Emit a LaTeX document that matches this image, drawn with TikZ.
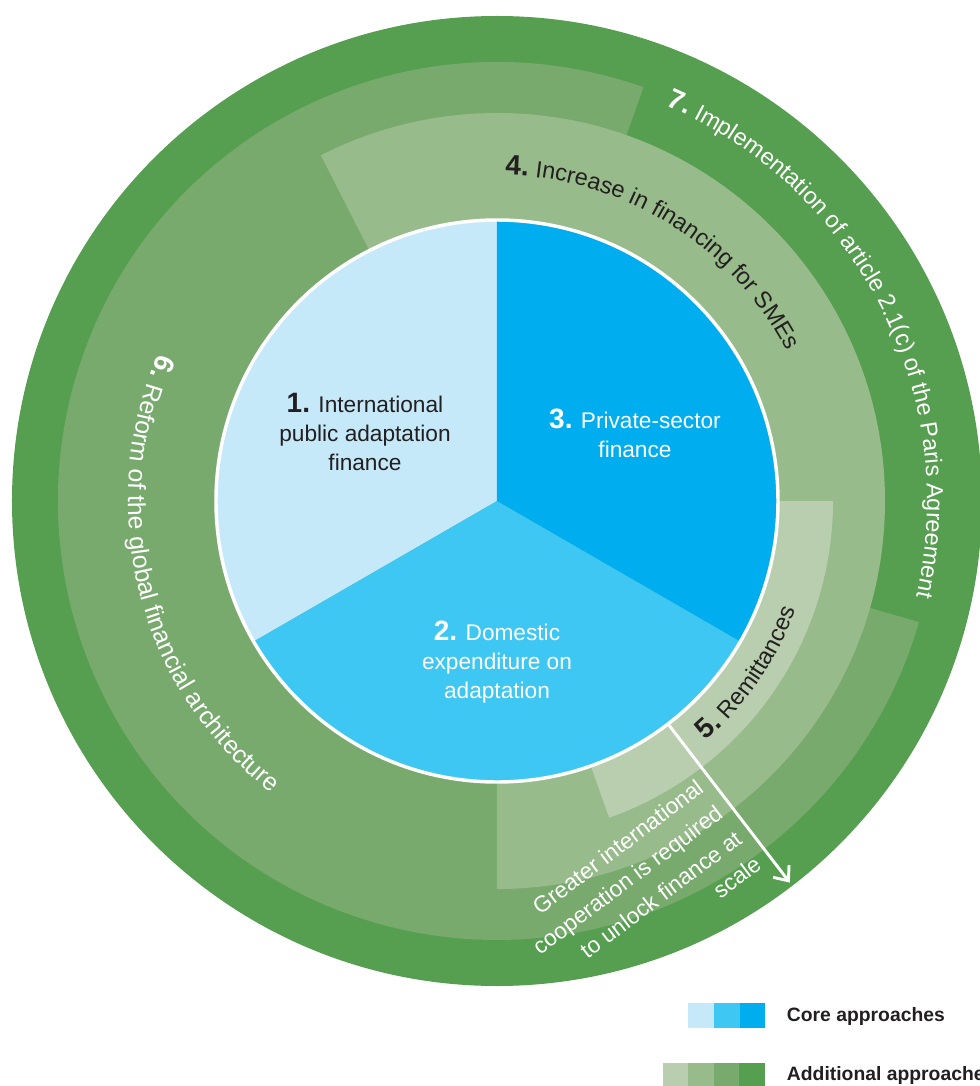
\documentclass[tikz,border=0pt]{standalone}
\usepackage{fontspec}
\setmainfont{Liberation Sans}
\usetikzlibrary{arrows.meta,decorations.text}

\definecolor{coreLight}{RGB}{198,233,249}
\definecolor{coreMid}{RGB}{63,199,243}
\definecolor{coreDark}{RGB}{0,173,238}
\definecolor{addLight}{RGB}{184,206,174}
\definecolor{addPale}{RGB}{152,187,139}
\definecolor{addMid}{RGB}{120,170,110}
\definecolor{addDark}{RGB}{86,158,80}
\definecolor{inkDark}{RGB}{35,31,32}

\newcommand{\numsize}{\fontsize{21}{21}\selectfont\bfseries}
\newcommand{\txtsize}{\fontsize{17}{21.75}\selectfont}
\newcommand{\arcsize}{\fontsize{17.6}{17.6}\selectfont}
\newcommand{\arcwide}{\fontsize{18.6}{18.6}\selectfont}

\tikzset{every picture/.style={line width=0.75pt}}
\tikzset{
  pie label/.style={align=center, font=\txtsize},
  ring label/.style={decorate, decoration={text along path, text align=center, text={#1}}},
  key label/.style={anchor=west, text=inkDark, font=\fontsize{14.5}{14.5}\selectfont\bfseries},
}

\begin{document}
\begin{tikzpicture}[x=0.75pt,y=0.75pt,yscale=1,xscale=1]
	\useasboundingbox (-497,-585) rectangle (482,501);

	%Shape: Circle [id:outer ring 7]
	\fill [addDark] (0,0) circle [radius=485];
	%Shape: Sector [id:band 6]
	\fill [addMid] (0,0) -- (70.5:439) arc [start angle=70.5, end angle=344, radius=439] -- cycle;
	%Shape: Sector [id:band 4]
	\fill [addPale] (0,0) -- (-90:388) arc [start angle=-90, end angle=117, radius=388] -- cycle;
	%Shape: Sector [id:band 5]
	\fill [addLight] (0,0) -- (-70.5:336) arc [start angle=-70.5, end angle=0, radius=336] -- cycle;
	%Shape: Sector [id:core 1]
	\fill [coreLight] (0,0) -- (90:281) arc [start angle=90, end angle=210, radius=281] -- cycle;
	%Shape: Sector [id:core 2]
	\fill [coreMid] (0,0) -- (210:281) arc [start angle=210, end angle=330, radius=281] -- cycle;
	%Shape: Sector [id:core 3]
	\fill [coreDark] (0,0) -- (-30:281) arc [start angle=-30, end angle=90, radius=281] -- cycle;
	%Shape: Circle [id:pie rim]
	\draw [white, line width=2.6pt] (0,0) circle [radius=281];

	%Straight Lines [id:scale arrow]
	\coordinate (arrowFrom) at (-52.5:283);
	\coordinate (arrowTo) at (-52.5:481);
	\draw [white, line width=2.2pt, -{Straight Barb[length=9pt,width=15pt]}] (arrowFrom) -- (arrowTo);

	% Curved Text
	\path [ring label={|\numsize\color{inkDark}|4.|\arcsize\color{inkDark}| Increase in financing for SMEs}]
		(103:326) arc [start angle=103, end angle=13, radius=326];
	% Curved Text
	\path [ring label={|\numsize\color{white}|7.|\arcsize\color{white}| Implementation of article 2.1(c) of the Paris Agreement}]
		(87:430) arc [start angle=87, end angle=-33, radius=430];
	% Curved Text
	\path [ring label={|\numsize\color{white}|6.|\arcwide\color{white}| Reform of the global financial architecture}]
		(134.4:369) arc [start angle=134.4, end angle=254.4, radius=369];
	% Curved Text
	\path [ring label={|\numsize\color{inkDark}|5.|\arcsize\color{inkDark}| Remittances}]
		(-74.5:318) arc [start angle=-74.5, end angle=5.5, radius=318];

	% Text Node
	\draw (-132,69) node (coreIntl) [pie label, text=inkDark] {{\numsize 1.} International\\public adaptation\\finance};
	% Text Node
	\draw (0,-161) node (coreDomestic) [pie label, text=white] {{\numsize 2.} Domestic\\expenditure on\\adaptation};
	% Text Node
	\draw (138,68) node (corePrivate) [pie label, text=white] {{\numsize 3.} Private-sector\\finance};
	% Text Node
	\draw (236,-319) node (scaleNote) [anchor=east, rotate=37, align=right, text=white, font=\fontsize{17}{24}\selectfont] {Greater international\\cooperation is required\\to unlock finance at\\scale};

	%Shape: Rectangle [id:key core]
	\fill [coreLight] (191,-502) rectangle (217,-527);
	\fill [coreMid] (217,-502) rectangle (243,-527);
	\fill [coreDark] (243,-502) rectangle (268,-527);
	% Text Node
	\draw (285,-515) node (keyCore) [key label] {Core approaches};
	%Shape: Rectangle [id:key additional]
	\fill [addLight] (166,-562) rectangle (191.5,-590);
	\fill [addPale] (191.5,-562) rectangle (217,-590);
	\fill [addMid] (217,-562) rectangle (242.5,-590);
	\fill [addDark] (242.5,-562) rectangle (268,-590);
	% Text Node
	\draw (285,-574) node (keyAdd) [key label] {Additional approaches};

\end{tikzpicture}
\end{document}
